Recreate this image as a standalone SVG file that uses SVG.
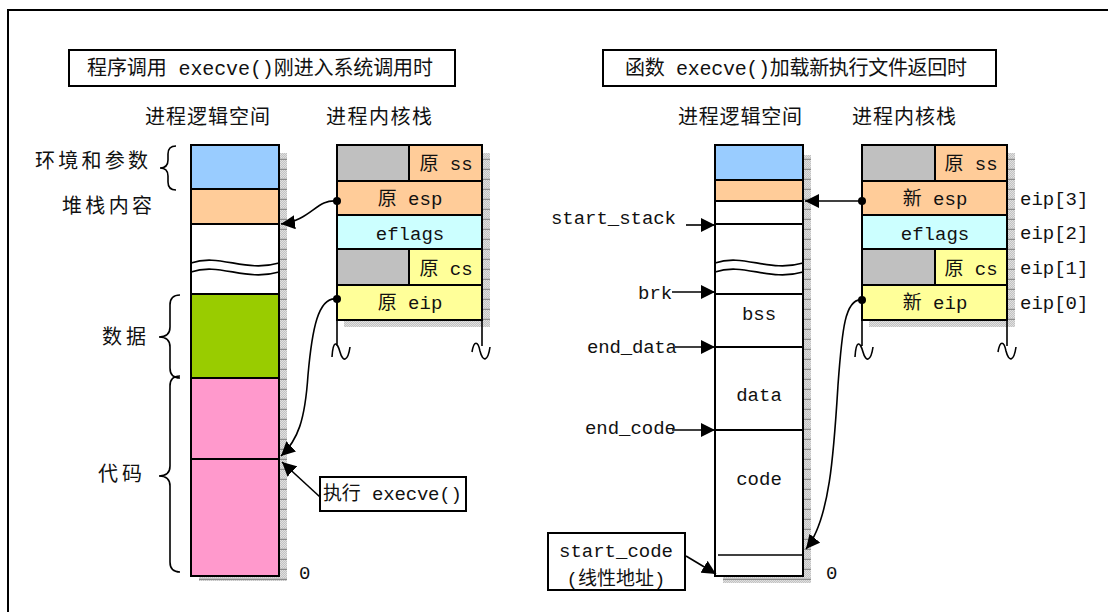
<svg xmlns="http://www.w3.org/2000/svg" width="1108" height="612" viewBox="0 0 1108 612">
<style>
.t{font-family:"Liberation Mono","Noto Sans CJK SC",monospace;font-size:19px;fill:#111}
.h{font-size:20px}
.m{text-anchor:middle}
.bx{stroke:#000;stroke-width:2}
.ln{stroke:#000;stroke-width:1.6;fill:none}
.sh{fill:url(#shp)}
</style>
<defs>
<pattern id="shp" width="4" height="10" patternUnits="userSpaceOnUse">
<rect width="4" height="10" fill="#c2c2c2"/>
<rect x="0" y="0" width="1" height="1" fill="#e0e0e0"/><rect x="2" y="0" width="1" height="1" fill="#e0e0e0"/>
<rect x="1" y="1" width="1" height="1" fill="#e0e0e0"/><rect x="3" y="1" width="1" height="1" fill="#e0e0e0"/>
<rect x="0" y="2" width="1" height="1" fill="#e0e0e0"/><rect x="2" y="2" width="1" height="1" fill="#e0e0e0"/>
<rect x="1" y="3" width="1" height="1" fill="#e0e0e0"/><rect x="3" y="3" width="1" height="1" fill="#e0e0e0"/>
<rect x="0" y="4" width="1" height="1" fill="#e0e0e0"/><rect x="2" y="4" width="1" height="1" fill="#e0e0e0"/>
<rect x="1" y="5" width="1" height="1" fill="#e0e0e0"/><rect x="3" y="5" width="1" height="1" fill="#e0e0e0"/>
<rect x="0" y="6" width="1" height="1" fill="#e0e0e0"/><rect x="2" y="6" width="1" height="1" fill="#e0e0e0"/>
<rect x="1" y="7" width="1" height="1" fill="#e0e0e0"/><rect x="3" y="7" width="1" height="1" fill="#e0e0e0"/>
<rect x="0" y="9" width="4" height="1" fill="#8c8c8c"/>
</pattern>
<marker id="ah" viewBox="0 0 14 14" refX="14" refY="7" markerWidth="14" markerHeight="14" markerUnits="userSpaceOnUse" orient="auto">
<path d="M0,0 L14,7 L0,14 z" fill="#000"/>
</marker>
</defs>
<rect width="1108" height="612" fill="#fff"/>
<rect id="frame" x="8" y="10" width="1120" height="640" fill="none" stroke="#000" stroke-width="2"/>

<!-- LEFT HALF -->
<g id="title-left">
<rect x="69" y="50" width="386" height="36" fill="#fff" class="bx"/>
<text class="t h" x="87" y="75" textLength="346" lengthAdjust="spacing">程序调用 execve()刚进入系统调用时</text>
</g>
<g id="headers-left">
<text class="t h" x="145" y="124" textLength="125" lengthAdjust="spacing">进程逻辑空间</text>
<text class="t h" x="326" y="124" textLength="106" lengthAdjust="spacing">进程内核栈</text>
</g>

<g id="mem-left">
<rect class="sh" x="279" y="153" width="8" height="428"/>
<rect class="sh" x="199" y="576" width="88" height="5"/>
<rect x="191" y="145" width="88" height="44" fill="#99CCFF"/>
<rect x="191" y="189" width="88" height="35" fill="#FFCC99"/>
<rect x="191" y="224" width="88" height="70" fill="#FFFFFF"/>
<rect x="191" y="294" width="88" height="84" fill="#99CC00"/>
<rect x="191" y="378" width="88" height="198" fill="#FF99CC"/>
<path d="M191,263 C220,253 245,273 279,263 L279,272 C245,282 220,262 191,272 Z" fill="#fff" stroke="none"/>
<path class="ln" d="M191,263 C220,253 245,273 279,263 M191,272 C220,262 245,282 279,272"/>
<path class="bx" fill="none" d="M191,189 H279 M191,224 H279 M191,294 H279 M191,378 H279 M191,459 H279"/>
<rect x="191" y="145" width="88" height="431" fill="none" class="bx"/>
</g>

<g id="labels-left">
<text class="t h" x="35" y="168" textLength="113" lengthAdjust="spacing">环境和参数</text>
<text class="t h" x="62" y="213" textLength="90" lengthAdjust="spacing">堆栈内容</text>
<text class="t h" x="102" y="344" textLength="44" lengthAdjust="spacing">数据</text>
<text class="t h" x="98" y="481" textLength="44" lengthAdjust="spacing">代码</text>
<text class="t" x="299" y="579">0</text>
</g>
<g id="braces-left">
<path class="ln" d="M176,146 Q168,146 168,154 L168,160 Q168,168 160,168 Q168,168 168,176 L168,182 Q168,190 176,190"/>
<path class="ln" d="M180,295 Q170,295 170,305 L170,327 Q170,337 159,337 Q170,337 170,347 L170,368 Q170,378 180,378"/>
<path class="ln" d="M180,376 Q170,376 170,386 L170,466 Q170,476 159,476 Q170,476 170,486 L170,562 Q170,572 180,572"/>
</g>

<g id="kstack-left">
<rect class="sh" x="482" y="153" width="8" height="174"/>
<rect class="sh" x="344" y="320" width="146" height="7"/>
<rect x="337" y="145" width="72" height="36" fill="#C0C0C0" class="bx"/>
<rect x="409" y="145" width="73" height="36" fill="#FFCC99" class="bx"/>
<rect x="337" y="181" width="145" height="34" fill="#FFCC99" class="bx"/>
<rect x="337" y="215" width="145" height="34" fill="#CCFFFF" class="bx"/>
<rect x="337" y="249" width="72" height="36" fill="#C0C0C0" class="bx"/>
<rect x="409" y="249" width="73" height="36" fill="#FFFF99" class="bx"/>
<rect x="337" y="285" width="145" height="35" fill="#FFFF99" class="bx"/>
<text class="t m" x="446" y="170">原 ss</text>
<text class="t m" x="410" y="205">原 esp</text>
<text class="t m" x="410" y="240">eflags</text>
<text class="t m" x="446" y="275">原 cs</text>
<text class="t m" x="410" y="309">原 eip</text>
<path class="ln" d="M337,320 V346 M332,357 C333,340 337,341 340,352 C343,363 348,361 350,347"/>
<path class="ln" d="M482,320 V346 M472,352 C474,340 478,341 480,351 C483,363 488,361 490,347"/>
</g>

<g id="exec-box">
<rect x="320" y="477" width="146" height="34" fill="#fff" class="bx"/>
<text class="t" x="323" y="500" textLength="139" lengthAdjust="spacing">执行 execve()</text>
</g>

<!-- RIGHT HALF -->
<g id="title-right">
<rect x="603" y="50" width="393" height="36" fill="#fff" class="bx"/>
<text class="t h" x="625" y="75" textLength="342" lengthAdjust="spacing">函数 execve()加载新执行文件返回时</text>
</g>
<g id="headers-right">
<text class="t h" x="678" y="124" textLength="124" lengthAdjust="spacing">进程逻辑空间</text>
<text class="t h" x="852" y="124" textLength="104" lengthAdjust="spacing">进程内核栈</text>
</g>

<g id="mem-right">
<rect class="sh" x="803" y="155" width="8" height="428"/>
<rect class="sh" x="723" y="576" width="88" height="7"/>
<rect x="715" y="145" width="88" height="35" fill="#99CCFF"/>
<rect x="715" y="180" width="88" height="21" fill="#FFCC99"/>
<rect x="715" y="201" width="88" height="375" fill="#FFFFFF"/>
<path class="ln" d="M715,263 C744,253 769,273 803,263 M715,272 C744,262 769,282 803,272"/>
<path class="bx" fill="none" d="M715,180 H803 M715,201 H803 M715,224 H803 M715,294 H803 M715,347 H803 M715,430 H803"/>
<path class="ln" d="M718,555 H803"/>
<rect x="715" y="145" width="88" height="431" fill="none" class="bx"/>
<text class="t m" x="759" y="320">bss</text>
<text class="t m" x="759" y="401">data</text>
<text class="t m" x="759" y="485">code</text>
<text class="t" x="826" y="579">0</text>
</g>

<g id="labels-right">
<text class="t" x="551" y="224" textLength="125" lengthAdjust="spacing">start_stack</text>
<text class="t" x="638" y="299">brk</text>
<text class="t" x="587" y="353" textLength="90" lengthAdjust="spacing">end_data</text>
<text class="t" x="585" y="434" textLength="91" lengthAdjust="spacing">end_code</text>
</g>

<g id="startcode-box">
<rect x="548" y="533" width="137" height="57" fill="#fff" class="bx"/>
<text class="t m" x="616" y="557">start_code</text>
<text class="t m" x="616" y="585">(线性地址)</text>
</g>

<g id="kstack-right">
<rect class="sh" x="1007" y="153" width="8" height="174"/>
<rect class="sh" x="869" y="320" width="146" height="7"/>
<rect x="862" y="145" width="73" height="36" fill="#C0C0C0" class="bx"/>
<rect x="935" y="145" width="72" height="36" fill="#FFCC99" class="bx"/>
<rect x="862" y="181" width="145" height="34" fill="#FFCC99" class="bx"/>
<rect x="862" y="215" width="145" height="34" fill="#CCFFFF" class="bx"/>
<rect x="862" y="249" width="73" height="36" fill="#C0C0C0" class="bx"/>
<rect x="935" y="249" width="72" height="36" fill="#FFFF99" class="bx"/>
<rect x="862" y="285" width="145" height="35" fill="#FFFF99" class="bx"/>
<text class="t m" x="971" y="170">原 ss</text>
<text class="t m" x="935" y="205">新 esp</text>
<text class="t m" x="935" y="240">eflags</text>
<text class="t m" x="971" y="275">原 cs</text>
<text class="t m" x="935" y="309">新 eip</text>
<path class="ln" d="M862,320 V346 M855,357 C856,340 860,341 863,352 C866,363 871,361 873,347"/>
<path class="ln" d="M1007,320 V346 M998,352 C1000,340 1004,341 1006,351 C1009,363 1014,361 1016,347"/>
<text class="t" x="1020" y="205">eip[3]</text>
<text class="t" x="1020" y="239">eip[2]</text>
<text class="t" x="1020" y="274">eip[1]</text>
<text class="t" x="1020" y="309">eip[0]</text>
</g>

<g id="connectors">
<path class="ln" marker-end="url(#ah)" d="M337,201 C316,199 312,220 281,224"/>
<path class="ln" marker-end="url(#ah)" d="M337,299 C318,296 312,330 308,375 C305,420 298,440 281,456"/>
<path class="ln" marker-end="url(#ah)" d="M320,497 L282,462"/>
<path class="ln" marker-end="url(#ah)" d="M862,201 L805,201"/>
<path class="ln" marker-end="url(#ah)" d="M862,300 C845,298 842,330 838,385 C834,450 830,520 806,549"/>
<path class="ln" marker-end="url(#ah)" d="M686,225 L715,225"/>
<path class="ln" marker-end="url(#ah)" d="M672,292 L715,292"/>
<path class="ln" marker-end="url(#ah)" d="M675,347 L715,347"/>
<path class="ln" marker-end="url(#ah)" d="M672,430 L715,430"/>
<path class="ln" marker-end="url(#ah)" d="M686,556 L716,574"/>
<circle cx="337" cy="201" r="4" fill="#000"/>
<circle cx="337" cy="299" r="4" fill="#000"/>
<circle cx="862" cy="201" r="4" fill="#000"/>
<circle cx="862" cy="300" r="4" fill="#000"/>
</g>
</svg>
